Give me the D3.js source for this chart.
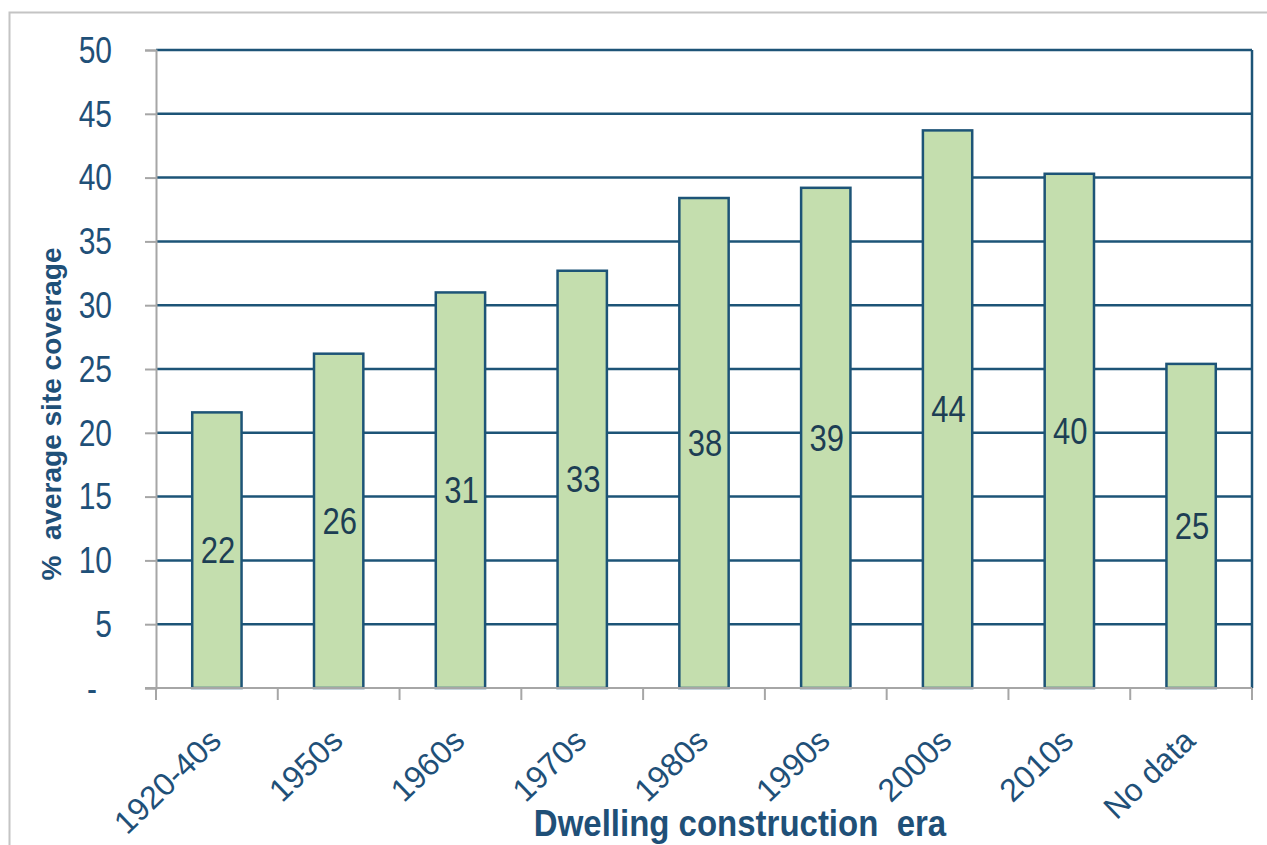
<!DOCTYPE html>
<html>
<head>
<meta charset="utf-8">
<script src="https://cdn.jsdelivr.net/npm/d3@7"></script>
<style>
  html, body { margin: 0; padding: 0; background: #ffffff; }
  svg { display: block; }
  text { font-family: "Liberation Sans", Arial, sans-serif; }
</style>
</head>
<body>
<svg id="chart" width="1267" height="845"></svg>
<script>
const categories = ["1920-40s", "1950s", "1960s", "1970s", "1980s", "1990s", "2000s", "2010s", "No data"];
const values = [21.6, 26.2, 31.0, 32.7, 38.4, 39.2, 43.7, 40.3, 25.4];
const barLabels = ["22", "26", "31", "33", "38", "39", "44", "40", "25"];
const yTicks = [0, 5, 10, 15, 20, 25, 30, 35, 40, 45, 50];
const yTickLabels = ["-", "5", "10", "15", "20", "25", "30", "35", "40", "45", "50"];
const yTitle = "%  average site coverage";
const xTitle = "Dwelling construction  era";

(function () {
const svg = d3.select("#chart");
const pLeft = 156, pRight = 1252, pTop = 50, pBottom = 688;

const gridColor = "#1d5477";
const axisGrey = "#a6a6a6";
const textBlue = "#1f5078";

// outer frame
svg.append("path")
  .attr("d", "M9.5,845 L9.5,12.5 L1267,12.5")
  .attr("fill", "none").attr("stroke", "#c4c4c4").attr("stroke-width", 2);

const y = d3.scaleLinear().domain([0, 50]).range([pBottom, pTop]);
const x = d3.scaleBand().domain(categories).range([pLeft, pRight])
  .paddingInner(0.595).paddingOuter(0.2975);
const step = x.step();

// gridlines
svg.append("g").selectAll("line").data(yTicks.filter(d => d > 0)).join("line")
  .attr("x1", pLeft).attr("x2", pRight)
  .attr("y1", d => y(d)).attr("y2", d => y(d))
  .attr("stroke", gridColor).attr("stroke-width", 2.5);

// right border
svg.append("line")
  .attr("x1", pRight).attr("x2", pRight).attr("y1", y(50)).attr("y2", y(0))
  .attr("stroke", gridColor).attr("stroke-width", 2.5);

// y axis (grey) with ticks
const yAxis = d3.axisLeft(y).tickValues(yTicks).tickSize(11).tickFormat(() => "");
const gy = svg.append("g").attr("transform", `translate(${pLeft},0)`).call(yAxis);
gy.select(".domain").attr("stroke", axisGrey).attr("stroke-width", 2);
gy.selectAll(".tick line").attr("stroke", axisGrey).attr("stroke-width", 2);

// y tick labels
svg.append("g").selectAll("text").data(yTicks).join("text")
  .attr("transform", d => `translate(${d === 0 ? 97 : 112},${y(d)}) scale(1,1.22)`)
  .attr("text-anchor", "end")
  .attr("dy", "0.35em")
  .attr("font-size", 30)
  .attr("fill", textBlue)
  .text((d, i) => yTickLabels[i]);

// bars
svg.append("g").selectAll("rect").data(values).join("rect")
  .attr("x", (d, i) => x(categories[i]))
  .attr("width", x.bandwidth())
  .attr("y", d => y(d))
  .attr("height", d => y(0) - y(d))
  .attr("fill", "#c4deae")
  .attr("stroke", gridColor)
  .attr("stroke-width", 2.5);

// x axis (grey) with ticks at band boundaries
svg.append("line")
  .attr("x1", pLeft - 11).attr("x2", pRight).attr("y1", pBottom).attr("y2", pBottom)
  .attr("stroke", axisGrey).attr("stroke-width", 2);
svg.append("g").selectAll("line").data(d3.range(categories.length + 1)).join("line")
  .attr("x1", i => pLeft + i * step).attr("x2", i => pLeft + i * step)
  .attr("y1", pBottom).attr("y2", pBottom + 12)
  .attr("stroke", axisGrey).attr("stroke-width", 2);

// bar value labels
svg.append("g").selectAll("text").data(values).join("text")
  .attr("transform", (d, i) => `translate(${x(categories[i]) + x.bandwidth() / 2 + 1},${(y(d) + y(0)) / 2}) scale(1,1.2)`)
  .attr("text-anchor", "middle")
  .attr("dy", "0.35em")
  .attr("font-size", 31)
  .attr("fill", "#1d3e54")
  .text((d, i) => barLabels[i]);

// x category labels
svg.append("g").selectAll("text").data(categories).join("text")
  .attr("transform", d => `translate(${x(d) + x.bandwidth() / 2 + 6},${743}) rotate(-44)`)
  .attr("text-anchor", "end")
  .attr("font-size", 32)
  .attr("fill", textBlue)
  .text(d => d);

// axis titles
svg.append("text")
  .attr("transform", `translate(61,414) rotate(-90)`)
  .attr("text-anchor", "middle")
  .attr("font-size", 28)
  .attr("font-weight", "bold")
  .attr("fill", textBlue)
  .style("white-space", "pre")
  .text(yTitle);

svg.append("text")
  .attr("transform", `translate(740,836) scale(1,1.1)`)
  .attr("text-anchor", "middle")
  .attr("font-size", 33)
  .attr("font-weight", "bold")
  .attr("fill", textBlue)
  .style("white-space", "pre")
  .text(xTitle);
})();
</script>
</body>
</html>
